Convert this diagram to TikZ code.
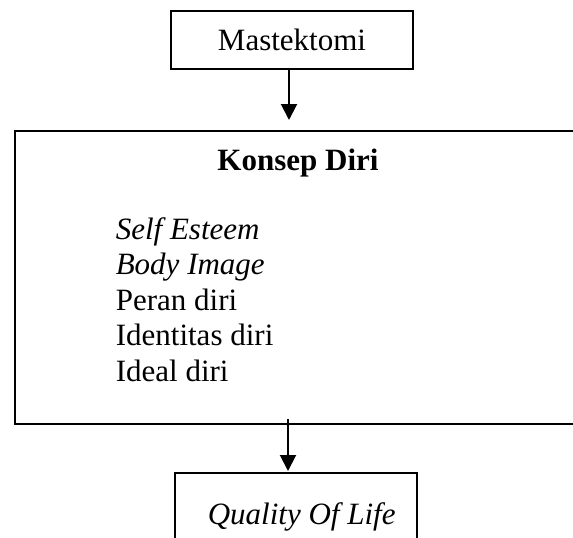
\documentclass[tikz,border=0pt]{standalone}
\usepackage{fontspec}
\setmainfont{Liberation Serif}
\usetikzlibrary{arrows.meta}
\begin{document}
\begin{tikzpicture}[x=1pt,y=-1pt,line width=1.6pt,
  txt/.style={font=\fontsize{31}{36}\selectfont, inner sep=0pt, anchor=base west},
  arr/.style={-{Triangle[length=16pt,width=16pt]}, line width=2pt}]
\useasboundingbox (0,0) rectangle (573,538);
\node[draw, minimum width=242pt, minimum height=58pt, inner sep=0pt,
      font=\fontsize{31}{36}\selectfont] (mast) at (292,40) {Mastektomi};
\node[draw, minimum width=600pt, minimum height=293pt, inner sep=0pt,
      anchor=north west] (konsep) at (14,130) {};
\node[draw, minimum width=242pt, minimum height=100pt, inner sep=0pt,
      anchor=north west] (qol) at (174,472) {};
\node[txt, anchor=base, font=\fontsize{31}{36}\selectfont\bfseries] (kd) at (298,170) {Konsep Diri};
\node[txt] (se) at (115,239) {\textit{Self Esteem}};
\node[txt] (bi) at (115,274.5) {\textit{Body Image}};
\node[txt] (pd) at (115,310) {Peran diri};
\node[txt] (id) at (115,345.5) {Identitas diri};
\node[txt] (ide) at (115,381) {Ideal diri};
\node[txt] (ql) at (207,524) {\textit{Quality Of Life}};
\coordinate (a1s) at (289,69);
\coordinate (a2s) at (288,419);
\draw[arr, shorten >=10pt] (a1s) -- (a1s |- konsep.north);
\draw[arr, shorten >=1pt] (a2s) -- (a2s |- qol.north);
\end{tikzpicture}
\end{document}
